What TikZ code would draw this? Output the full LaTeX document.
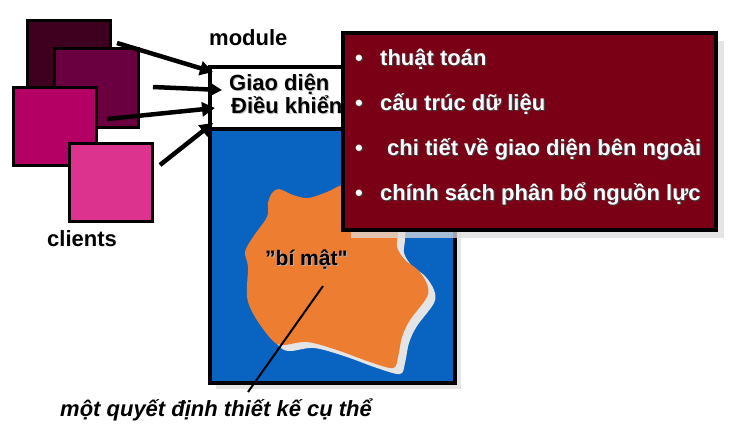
\documentclass[tikz,border=0pt]{standalone}
\usepackage{fontspec}
\setmainfont{Liberation Sans}
\newfontfamily\plainfont{Liberation Sans}
\usetikzlibrary{arrows.meta}
\definecolor{sqA}{RGB}{63,0,32}
\definecolor{sqB}{RGB}{106,0,64}
\definecolor{sqC}{RGB}{180,0,100}
\definecolor{sqD}{RGB}{219,51,142}
\definecolor{modblue}{RGB}{8,99,193}
\definecolor{blob}{RGB}{237,125,49}
\definecolor{blobshadow}{RGB}{228,228,228}
\definecolor{darkred}{RGB}{122,0,22}
\definecolor{boxshadow}{RGB}{220,220,220}
\begin{document}
\begin{tikzpicture}[x=1pt,y=-1pt,
  sq/.style={draw=black,line width=3pt},
  conn/.style={line width=4.5pt,-{Triangle[length=13pt,width=14pt]}},
  lbl/.style={font=\fontsize{22}{26}\selectfont\bfseries,inner sep=0pt,anchor=base west},
  btxt/.style={font=\fontsize{22}{26}\selectfont\bfseries,inner sep=0pt,anchor=base west},
  shad/.style={text=black!75},
  wht/.style={text=white}]
\useasboundingbox (0,0) rectangle (737,429);
% client squares
\fill[sqA] (27,20) rectangle (110,100);
\draw[sq] (27,20) rectangle (110,100);
\fill[sqB] (54,48) rectangle (138,127);
\draw[sq] (54,48) rectangle (138,127);
\fill[sqC] (13,87) rectangle (96,165);
\draw[sq] (13,87) rectangle (96,165);
\fill[sqD] (69,143) rectangle (152,221);
\draw[sq] (69,143) rectangle (152,221);
\node[lbl] (clients) at (47,246) {clients};
\node[lbl] (module) at (209,45) {module};
% module boxes
\fill[black!10] (216,135) rectangle (461,389);
\fill[modblue] (210,129) rectangle (455,383);
\draw[line width=3.5pt] (210,129) rectangle (455,383);
\fill[white] (210,67) rectangle (360,129);
\draw[line width=3.5pt] (360,67) -- (210,67) -- (210,129) -- (360,129);
% blob
\def\blobpts{(272,193) (279,189) (293,195) (308,198) (327,192) (345,184) (380,178) (398,200)
 (398,233) (397,247) (405,260) (418,270) (427,284) (427,297) (410,320) (402,337)
 (398,357) (393,368) (370,362) (337,350) (307,342) (283,345) (272,340) (255,317)
 (247,297) (248,267) (245,252) (253,237) (267,217) (268,203)}
\fill[blobshadow,shift={(7,6)}] plot[smooth cycle,tension=0.55] coordinates {\blobpts};
\fill[blob] plot[smooth cycle,tension=0.55] coordinates {\blobpts};
% interface texts
\node[lbl,text=black!25] at (230,91) {Giao diện};
\node[lbl] (giao) at (229,90) {Giao diện};
\node[lbl,text=black!25] at (232,114) {Điều khiển};
\node[lbl] (dieu) at (231,113) {Điều khiển};
\node[lbl,font=\fontsize{21}{25}\plainfont\bfseries,text=black!30] at (266,266) {”bí mật"};
\node[lbl,font=\fontsize{21}{25}\plainfont\bfseries] (bimat) at (265,265) {”bí mật"};
% arrows
\coordinate (s1) at (117,43);  \coordinate (e1) at (213,72);
\coordinate (s2) at (153,87);  \coordinate (e2) at (222,90);
\coordinate (s3) at (107,119); \coordinate (e3) at (215,108);
\coordinate (s4) at (160,165); \coordinate (e4) at (213,123);
\draw[conn] (s1) -- (e1);
\draw[conn] (s2) -- (e2);
\draw[conn] (s3) -- (e3);
\draw[conn] (s4) -- (e4);
% secret box
\fill[boxshadow,opacity=0.75] (716,41) rectangle (724,238);
\fill[boxshadow,opacity=0.75] (351,230) rectangle (716,238);
\fill[darkred] (343,33) rectangle (716,230);
\draw[line width=3.5pt] (343,33) rectangle (716,230);
\foreach \yy/\xx/\tt in {65/380/thuật toán,110/380/cấu trúc dữ liệu,155/387/chi tiết về giao diện bên ngoài,200/380/chính sách phân bổ nguồn lực}{
  \node[btxt,shad] at (356,\yy+1.2) {•};
  \node[btxt,wht] at (355,\yy) {•};
  \node[btxt,shad] at (\xx+1.2,\yy+1.2) {\tt};
  \node[btxt,wht] at (\xx,\yy) {\tt};
}
% decision label
\node[lbl,font=\fontsize{22}{26}\selectfont\bfseries\itshape] (quyet) at (60,416) {một quyết định thiết kế cụ thể};
\coordinate (lp1) at (323,286);
\coordinate (lp2) at (248,392);
\draw[line width=2pt] (lp1) -- (lp2);
\end{tikzpicture}
\end{document}
